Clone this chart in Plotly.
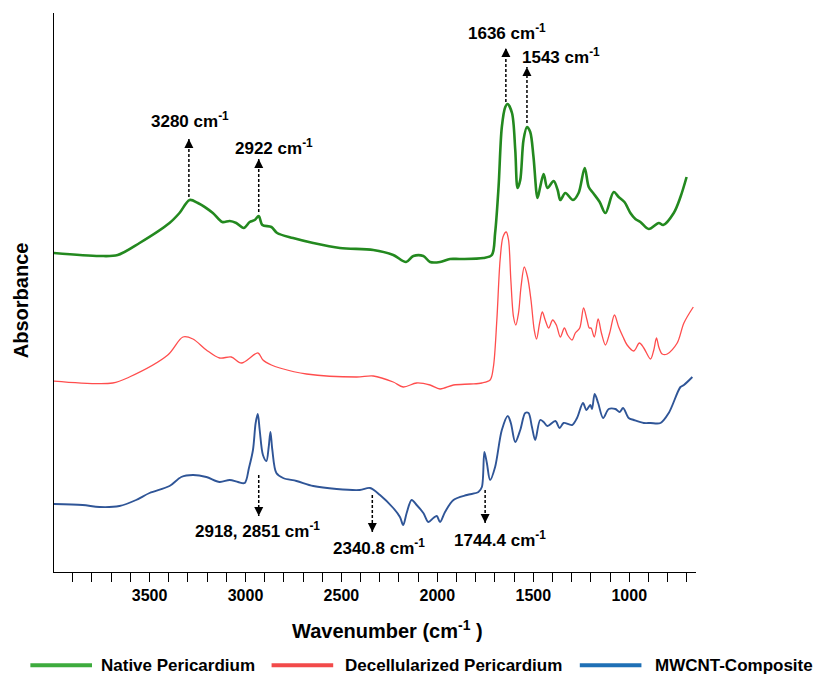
import plotly.graph_objects as go

# ---------------- data ----------------
native_wn = [4000, 3761, 3666, 3552, 3396, 3344, 3291, 3248, 3170, 3121, 3082, 3048, 3009, 2978,
             2952, 2931, 2912, 2865, 2835, 2752, 2647, 2508, 2334, 2230, 2163, 2125, 2073, 2038,
             1986, 1934, 1881, 1760, 1716, 1699, 1681, 1664, 1646, 1634, 1611, 1594, 1582, 1568,
             1551, 1533, 1516, 1499, 1478, 1464, 1446, 1426, 1394, 1373, 1359, 1333, 1293, 1264,
             1232, 1211, 1188, 1154, 1124, 1081, 1055, 1025, 994, 968, 942, 898, 846, 823, 768,
             733, 701]
native_abs = [3.19, 3.16, 3.17, 3.29, 3.49, 3.59, 3.72, 3.69, 3.59, 3.50, 3.51, 3.49, 3.44, 3.50,
              3.52, 3.56, 3.47, 3.45, 3.39, 3.34, 3.29, 3.24, 3.22, 3.17, 3.10, 3.16, 3.16, 3.10,
              3.10, 3.13, 3.13, 3.14, 3.17, 3.39, 3.85, 4.45, 4.65, 4.68, 4.59, 4.22, 3.84, 3.92,
              4.32, 4.45, 4.40, 4.15, 3.74, 3.85, 3.98, 3.84, 3.91, 3.82, 3.72, 3.79, 3.72, 3.79,
              4.04, 3.85, 3.79, 3.70, 3.59, 3.80, 3.75, 3.70, 3.59, 3.53, 3.50, 3.43, 3.49, 3.47, 3.59,
              3.75, 3.95]

decell_wn = [4000, 3692, 3605, 3405, 3326, 3274, 3204, 3135, 3074, 3021, 2935, 2909, 2865, 2821,
             2682, 2421, 2334, 2230, 2178, 2108, 2038, 1986, 1916, 1829, 1768, 1725, 1708, 1690,
             1673, 1658, 1641, 1629, 1617, 1603, 1591, 1577, 1564, 1547, 1530, 1512, 1495, 1483,
             1467, 1453, 1438, 1420, 1399, 1380, 1359, 1338, 1321, 1298, 1281, 1258, 1238, 1220,
             1208, 1199, 1182, 1162, 1145, 1124, 1102, 1077, 1055, 1032, 1011, 976, 947, 924, 889,
             872, 858, 846, 828, 802, 750, 715, 666]
decell_abs = [1.91, 1.89, 1.95, 2.17, 2.35, 2.33, 2.22, 2.14, 2.15, 2.09, 2.19, 2.12, 2.07, 2.04,
              1.98, 1.95, 1.96, 1.90, 1.85, 1.89, 1.87, 1.83, 1.87, 1.88, 1.89, 1.92, 2.05, 2.52,
              3.12, 3.35, 3.40, 3.32, 2.92, 2.55, 2.47, 2.59, 2.85, 3.05, 2.95, 2.72, 2.42, 2.33,
              2.49, 2.60, 2.52, 2.44, 2.52, 2.47, 2.35, 2.44, 2.37, 2.32, 2.39, 2.44, 2.64, 2.52,
              2.44, 2.44, 2.35, 2.53, 2.39, 2.27, 2.39, 2.57, 2.45, 2.35, 2.27, 2.21, 2.29, 2.24, 2.13,
              2.22, 2.34, 2.25, 2.18, 2.18, 2.29, 2.49, 2.65]

mwcnt_wn = [4000, 3849, 3761, 3657, 3570, 3500, 3396, 3335, 3274, 3204, 3135, 3082, 3039, 3004,
            2982, 2961, 2947, 2936, 2926, 2909, 2891, 2879, 2870, 2860, 2839, 2804, 2734, 2647,
            2525, 2404, 2351, 2299, 2230, 2195, 2178, 2160, 2134, 2108, 2073, 2047, 2021, 2003,
            1986, 1960, 1916, 1846, 1786, 1768, 1755, 1742, 1725, 1699, 1664, 1633, 1617, 1594,
            1568, 1542, 1525, 1507, 1490, 1464, 1446, 1426, 1385, 1363, 1342, 1298, 1272, 1241,
            1223, 1203, 1194, 1180, 1162, 1136, 1107, 1072, 1050, 1032, 1003, 976, 924, 889, 837,
            794, 733, 715, 671]
mwcnt_abs = [0.68, 0.67, 0.65, 0.66, 0.72, 0.79, 0.86, 0.95, 0.97, 0.95, 0.90, 0.92, 0.90, 0.89,
             1.04, 1.22, 1.49, 1.58, 1.42, 1.17, 1.11, 1.25, 1.40, 1.22, 0.99, 0.94, 0.91, 0.86,
             0.83, 0.82, 0.84, 0.77, 0.64, 0.55, 0.47, 0.59, 0.72, 0.67, 0.59, 0.50, 0.54, 0.56,
             0.50, 0.60, 0.72, 0.77, 0.80, 0.85, 1.20, 1.09, 0.92, 1.05, 1.42, 1.56, 1.49, 1.30,
             1.42, 1.59, 1.59, 1.45, 1.32, 1.52, 1.50, 1.46, 1.51, 1.44, 1.49, 1.47, 1.54, 1.69,
             1.62, 1.67, 1.63, 1.78, 1.69, 1.54, 1.63, 1.63, 1.60, 1.64, 1.54, 1.52, 1.49, 1.49, 1.49,
             1.59, 1.85, 1.87, 1.95]

series_names = ["Native Pericardium", "Decellularized Pericardium", "MWCNT-Composite"]

tick_vals = [3500, 3000, 2500, 2000, 1500, 1000]
tick_text = ["3500", "3000", "2500", "2000", "1500", "1000"]

# peak labels: text, arrow x (wavenumber), arrow tail y, arrow tip y, text x, text y
peak_text = ["3280 cm<sup>-1</sup>", "2922 cm<sup>-1</sup>", "1636 cm<sup>-1</sup>",
             "1543 cm<sup>-1</sup>", "2918, 2851 cm<sup>-1</sup>", "2340.8 cm<sup>-1</sup>",
             "1744.4 cm<sup>-1</sup>"]
peak_x = [3295, 2931, 1643, 1533, 2931, 2339, 1751]
peak_tail = [3.75, 3.60, 4.70, 4.49, 0.97, 0.77, 0.82]
peak_tip = [4.33, 4.13, 5.24, 5.05, 0.56, 0.40, 0.49]
peak_text_x = [3291, 2850, 1639, 1354, 2939, 2304, 1673]
peak_text_y = [4.52, 4.25, 5.40, 5.16, 0.42, 0.25, 0.33]

# ---------------- styling ----------------
FONT = "Arial, 'Liberation Sans', sans-serif"
trace_colors = ["#23891f", "#ff4d4d", "#2f5597"]
trace_widths = [2.6, 1.3, 1.9]
legend_colors = ["#3dab3d", "#f24a4a", "#1f70b6"]

fig = go.Figure()
for wn, ab, col, w, name in zip([native_wn, decell_wn, mwcnt_wn],
                                [native_abs, decell_abs, mwcnt_abs],
                                trace_colors, trace_widths, series_names):
    fig.add_trace(go.Scatter(x=wn, y=ab, mode="lines", name=name, showlegend=False,
                             line=dict(color=col, width=w, shape="spline", smoothing=0.9)))

shapes = []
annotations = []
for txt, x, tail, tip, tx, ty in zip(peak_text, peak_x, peak_tail, peak_tip, peak_text_x, peak_text_y):
    up = tip > tail
    shapes.append(dict(type="line", xref="x", yref="y", x0=x, x1=x, y0=tail, y1=tip,
                       line=dict(color="black", width=1.5, dash="3px,2px")))
    annotations.append(dict(x=x, y=tip, xref="x", yref="y", text="", showarrow=True,
                            ax=0, ay=(10 if up else -10), arrowhead=2, arrowsize=1.2,
                            arrowwidth=1.5, arrowcolor="black", standoff=0))
    annotations.append(dict(x=tx, y=ty, xref="x", yref="y", text=txt, showarrow=False,
                            xanchor="center", yanchor="middle",
                            font=dict(family=FONT, size=17, color="black", weight="bold")))

# axis titles
annotations.append(dict(x=0.520, y=-0.102, xref="paper", yref="paper",
                        text="Wavenumber (cm<sup>-1</sup> )", showarrow=False,
                        xanchor="center", yanchor="middle",
                        font=dict(family=FONT, size=20, color="black", weight="bold")))
annotations.append(dict(x=-0.0511, y=0.4866, xref="paper", yref="paper", text="Absorbance",
                        textangle=-90, showarrow=False, xanchor="center", yanchor="middle",
                        font=dict(family=FONT, size=20, color="black", weight="bold")))

# legend (drawn below the axis)
leg_line_x = [(-0.0368, 0.0592), (0.3389, 0.4349), (0.8190, 0.9150)]
leg_text_x = [0.0701, 0.4496, 0.9333]
leg_y = -0.1670
for (lx0, lx1), tx, col, name in zip(leg_line_x, leg_text_x, legend_colors, series_names):
    shapes.append(dict(type="line", xref="paper", yref="paper", x0=lx0, x1=lx1, y0=leg_y, y1=leg_y,
                       line=dict(color=col, width=4)))
    annotations.append(dict(x=tx, y=leg_y, xref="paper", yref="paper", text=name, showarrow=False,
                            xanchor="left", yanchor="middle",
                            font=dict(family=FONT, size=17, color="black", weight="bold")))

fig.update_layout(
    width=816, height=675, autosize=False,
    margin=dict(l=54, r=120, t=13, b=103, pad=0),
    paper_bgcolor="white", plot_bgcolor="white",
    showlegend=False,
    shapes=shapes, annotations=annotations,
    font=dict(family=FONT, color="black"),
)
fig.update_xaxes(range=[3998, 652], showgrid=False, zeroline=False,
                 showline=True, linecolor="black", linewidth=1.3,
                 tickmode="array", tickvals=tick_vals, ticktext=tick_text,
                 ticks="outside", ticklen=9, tickwidth=1.3, tickcolor="black",
                 tickfont=dict(family=FONT, size=16, color="black", weight="bold"),
                 minor=dict(dtick=100, tick0=0, ticks="outside", ticklen=9, tickwidth=1.3,
                            tickcolor="black", showgrid=False))
fig.update_yaxes(range=[0, 5.59], showgrid=False, zeroline=False, showticklabels=False,
                 showline=True, linecolor="black", linewidth=1.3, ticks="")

fig.write_html("out.html")
